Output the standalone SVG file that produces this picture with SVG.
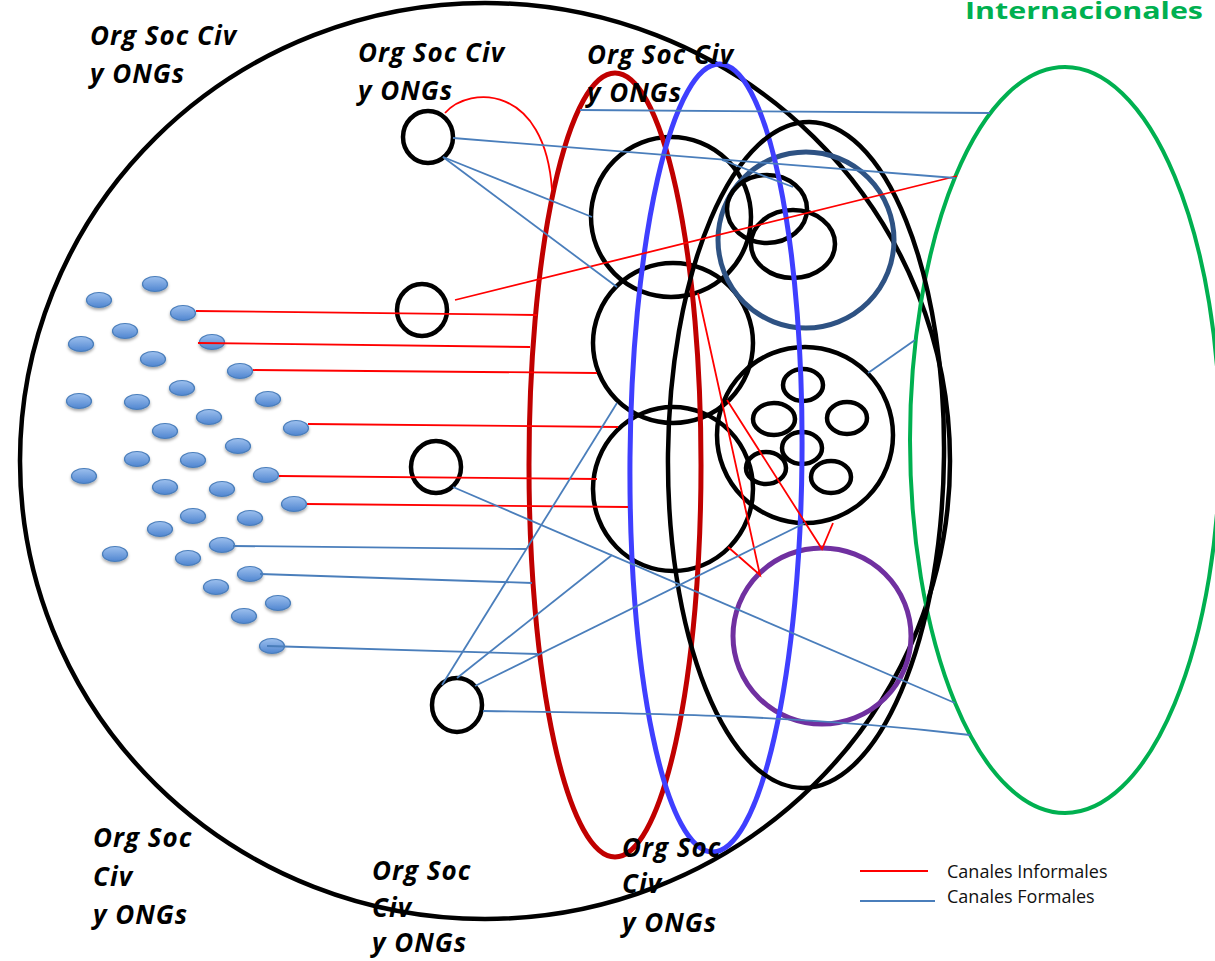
<svg xmlns="http://www.w3.org/2000/svg" width="1215" height="961" viewBox="0 0 1215 961">
<defs>
<linearGradient id="dotg" x1="0" y1="0" x2="0" y2="1">
<stop offset="0" stop-color="#9DC0EE"/>
<stop offset="1" stop-color="#4F85D0"/>
</linearGradient>
<filter id="sh" x="-30%" y="-30%" width="160%" height="200%">
<feDropShadow dx="0" dy="2" stdDeviation="1.4" flood-color="#000" flood-opacity="0.35"/>
</filter>
<style>
.blk{fill:none;stroke:#000;stroke-width:4.5}
.dot{fill:url(#dotg);stroke:#4A7EBB;stroke-width:1.2;filter:url(#sh)}
.inf{fill:none;stroke:#FF0000;stroke-width:1.8}
.frm{fill:none;stroke:#4A7EBB;stroke-width:1.8}
.lbl{font-family:"Open Sans","Liberation Sans",sans-serif;font-weight:bold;font-style:italic;font-size:26px;letter-spacing:1px;fill:#000}
.leg{font-family:"Open Sans","Liberation Sans",sans-serif;font-size:18px;fill:#111}
</style>
</defs>
<rect width="1215" height="961" fill="#fff"/>

<g id="big-circle"><ellipse cx="485" cy="461" rx="465" ry="458" class="blk"/></g>
<g id="green-ellipse"><ellipse cx="1065" cy="440" rx="155" ry="373" fill="none" stroke="#00B050" stroke-width="4"/></g>

<g id="circle-a"><circle cx="671" cy="217" r="80" class="blk"/></g>
<g id="circle-b"><circle cx="673" cy="343" r="80" class="blk"/></g>
<g id="circle-c"><ellipse cx="673" cy="489" rx="80" ry="82" class="blk"/></g>
<g id="darkblue-circle"><circle cx="806" cy="240" r="88" fill="none" stroke="#2E5283" stroke-width="5"/>
<ellipse cx="767" cy="209" rx="40" ry="34" class="blk"/>
<ellipse cx="793" cy="244" rx="42" ry="34" class="blk"/></g>
<g id="cluster-circle"><circle cx="805" cy="435" r="88" class="blk"/>
<ellipse cx="803" cy="385" rx="20" ry="16" class="blk"/>
<ellipse cx="774" cy="419" rx="21" ry="16" class="blk"/>
<ellipse cx="847" cy="418" rx="20" ry="16" class="blk"/>
<ellipse cx="802" cy="448" rx="20" ry="16" class="blk"/>
<ellipse cx="766" cy="468" rx="20" ry="16" class="blk"/>
<ellipse cx="831" cy="477" rx="20" ry="16" class="blk"/></g>
<g id="purple-circle"><ellipse cx="822" cy="636" rx="89" ry="88" fill="none" stroke="#7030A0" stroke-width="5"/></g>

<g id="red-ellipse"><ellipse cx="615" cy="465" rx="86" ry="392" fill="none" stroke="#C00000" stroke-width="5"/></g>
<g id="blue-ellipse"><ellipse cx="716" cy="458" rx="86" ry="394" transform="rotate(0.5 716 458)" fill="none" stroke="#3F3FFF" stroke-width="5"/></g>
<g id="black-ellipse"><ellipse cx="806" cy="455" rx="138" ry="333" transform="rotate(0.6 806 455)" class="blk"/></g>

<g id="node-1"><ellipse cx="428" cy="137" rx="25" ry="26" class="blk"/></g>
<g id="node-2"><ellipse cx="422" cy="310" rx="25" ry="26" class="blk"/></g>
<g id="node-3"><ellipse cx="436" cy="467" rx="25" ry="26" class="blk"/></g>
<g id="node-4"><ellipse cx="457" cy="705" rx="25" ry="27" class="blk"/></g>

<g id="dots">
<ellipse class="dot" cx="155" cy="284" rx="12.5" ry="7.5"/>
<ellipse class="dot" cx="99" cy="300" rx="12.5" ry="7.5"/>
<ellipse class="dot" cx="183" cy="313" rx="12.5" ry="7.5"/>
<ellipse class="dot" cx="125" cy="331" rx="12.5" ry="7.5"/>
<ellipse class="dot" cx="81" cy="344" rx="12.5" ry="7.5"/>
<ellipse class="dot" cx="212" cy="342" rx="12.5" ry="7.5"/>
<ellipse class="dot" cx="153" cy="359" rx="12.5" ry="7.5"/>
<ellipse class="dot" cx="240" cy="371" rx="12.5" ry="7.5"/>
<ellipse class="dot" cx="182" cy="388" rx="12.5" ry="7.5"/>
<ellipse class="dot" cx="79" cy="401" rx="12.5" ry="7.5"/>
<ellipse class="dot" cx="137" cy="402" rx="12.5" ry="7.5"/>
<ellipse class="dot" cx="268" cy="399" rx="12.5" ry="7.5"/>
<ellipse class="dot" cx="209" cy="417" rx="12.5" ry="7.5"/>
<ellipse class="dot" cx="165" cy="431" rx="12.5" ry="7.5"/>
<ellipse class="dot" cx="296" cy="428" rx="12.5" ry="7.5"/>
<ellipse class="dot" cx="238" cy="446" rx="12.5" ry="7.5"/>
<ellipse class="dot" cx="137" cy="459" rx="12.5" ry="7.5"/>
<ellipse class="dot" cx="193" cy="460" rx="12.5" ry="7.5"/>
<ellipse class="dot" cx="84" cy="476" rx="12.5" ry="7.5"/>
<ellipse class="dot" cx="266" cy="475" rx="12.5" ry="7.5"/>
<ellipse class="dot" cx="165" cy="487" rx="12.5" ry="7.5"/>
<ellipse class="dot" cx="222" cy="489" rx="12.5" ry="7.5"/>
<ellipse class="dot" cx="294" cy="504" rx="12.5" ry="7.5"/>
<ellipse class="dot" cx="193" cy="516" rx="12.5" ry="7.5"/>
<ellipse class="dot" cx="250" cy="518" rx="12.5" ry="7.5"/>
<ellipse class="dot" cx="160" cy="529" rx="12.5" ry="7.5"/>
<ellipse class="dot" cx="222" cy="545" rx="12.5" ry="7.5"/>
<ellipse class="dot" cx="115" cy="554" rx="12.5" ry="7.5"/>
<ellipse class="dot" cx="188" cy="558" rx="12.5" ry="7.5"/>
<ellipse class="dot" cx="250" cy="574" rx="12.5" ry="7.5"/>
<ellipse class="dot" cx="216" cy="587" rx="12.5" ry="7.5"/>
<ellipse class="dot" cx="278" cy="603" rx="12.5" ry="7.5"/>
<ellipse class="dot" cx="244" cy="616" rx="12.5" ry="7.5"/>
<ellipse class="dot" cx="272" cy="646" rx="12.5" ry="7.5"/>
</g>

<g id="connectors">
<path class="inf" d="M196,311 L537,315"/>
<path class="inf" d="M198,343 L530,347"/>
<path class="inf" d="M253,370 L597,373"/>
<path class="inf" d="M308,424 L618,427"/>
<path class="inf" d="M279,476 L597,479"/>
<path class="inf" d="M307,504 L628,507"/>
<path class="inf" d="M455,300 L957,176"/>
<path class="inf" d="M445,113 C470,85 545,85 552,190"/>
<path class="inf" d="M698,293 L760,575 L728,547"/>
<path class="inf" d="M727,400 L822,549 L833,523"/>
<path class="frm" d="M580,110 L990,113"/>
<path class="frm" d="M453,138 L955,178"/>
<path class="frm" d="M443,157 L592,217"/>
<path class="frm" d="M443,157 L617,287"/>
<path class="frm" d="M722,160 L793,187"/>
<path class="frm" d="M453,487 L955,703"/>
<path class="frm" d="M233,546 L527,549"/>
<path class="frm" d="M260,574 L532,583"/>
<path class="frm" d="M267,646 L538,654"/>
<path class="frm" d="M442,685 L617,403"/>
<path class="frm" d="M457,678 L612,555"/>
<path class="frm" d="M475,686 L805,523"/>
<path class="frm" d="M483,711 C650,713 800,715 970,735"/>
<path class="frm" d="M868,373 L915,340"/>
</g>

<g id="labels">
<text class="lbl" x="90" y="45">Org Soc Civ</text>
<text class="lbl" x="90" y="83">y ONGs</text>
<text class="lbl" x="358" y="62">Org Soc Civ</text>
<text class="lbl" x="358" y="100">y ONGs</text>
<text class="lbl" x="587" y="64">Org Soc Civ</text>
<text class="lbl" x="587" y="102">y ONGs</text>
<text class="lbl" x="93" y="847">Org Soc</text>
<text class="lbl" x="93" y="886">Civ</text>
<text class="lbl" x="93" y="924">y ONGs</text>
<text class="lbl" x="372" y="880">Org Soc</text>
<text class="lbl" x="372" y="917">Civ</text>
<text class="lbl" x="372" y="952">y ONGs</text>
<text class="lbl" x="622" y="857">Org Soc</text>
<text class="lbl" x="622" y="893">Civ</text>
<text class="lbl" x="622" y="932">y ONGs</text>
<text x="965" y="19" font-family="'Open Sans','Liberation Sans',sans-serif" font-weight="bold" font-size="24" fill="#00B050" textLength="238" lengthAdjust="spacingAndGlyphs">Internacionales</text>
</g>

<g id="legend">
<line x1="860" y1="871" x2="928" y2="871" class="inf"/>
<line x1="860" y1="901" x2="935" y2="901" class="frm"/>
<text class="leg" x="947" y="878">Canales Informales</text>
<text class="leg" x="947" y="903">Canales Formales</text>
</g>
</svg>
